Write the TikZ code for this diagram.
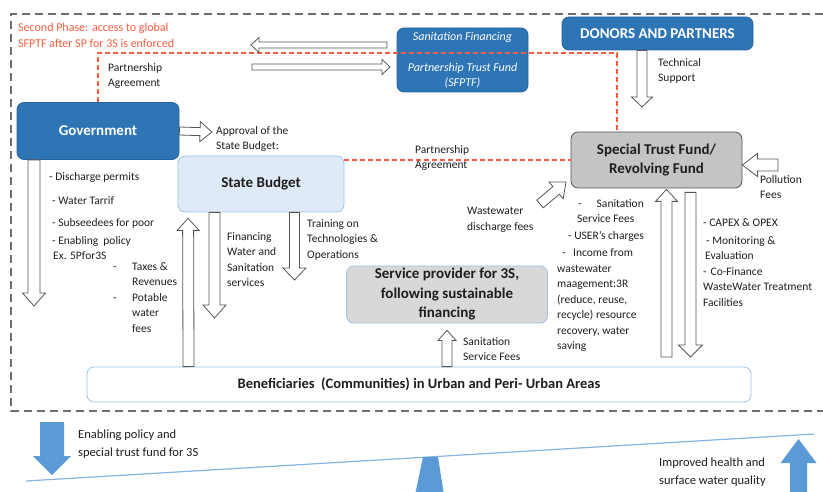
\documentclass[tikz,border=0pt]{standalone}
\usepackage{fontspec}
\setmainfont{Carlito}
\usetikzlibrary{calc}

\definecolor{darkblue}{RGB}{46,117,182}
\definecolor{lightblue}{RGB}{222,235,247}
\definecolor{edgeblue}{RGB}{157,195,230}
\definecolor{trustgray}{RGB}{196,196,196}
\definecolor{spgray}{RGB}{216,216,216}
\definecolor{redline}{RGB}{250,92,62}
\definecolor{framegray}{RGB}{110,110,110}
\definecolor{arrgray}{RGB}{85,85,85}
\definecolor{fillblue}{RGB}{91,155,213}
\definecolor{txt}{RGB}{30,30,30}

\tikzset{
  box/.style={rounded corners=7pt, inner sep=0pt, align=center, line width=0.8pt},
  blubox/.style={box, draw=darkblue!85!black, fill=darkblue, text=white,
    font=\bfseries\fontsize{15}{19}\selectfont},
  palebox/.style={box, draw=edgeblue, fill=lightblue, text=txt,
    font=\bfseries\fontsize{15}{19}\selectfont},
  trustbox/.style={box, draw=arrgray, fill=trustgray, text=txt,
    font=\bfseries\fontsize{15}{19}\selectfont},
  spbox/.style={box, draw=edgeblue, fill=spgray, text=txt,
    font=\bfseries\fontsize{15}{19.5}\selectfont},
  benbox/.style={box, draw=edgeblue, fill=white, text=txt,
    font=\bfseries\fontsize{14.5}{18}\selectfont},
  lbl/.style={anchor=north west, inner sep=0pt, align=left, text=txt,
    font=\fontsize{11.5}{15.5}\selectfont},
  redlbl/.style={lbl, text=redline, font=\fontsize{12}{15.5}\selectfont},
  botlbl/.style={lbl, font=\fontsize{12.5}{18}\selectfont},
  arr/.style={draw=arrgray, fill=white, line width=0.8pt},
  reddash/.style={draw=redline, line width=1.3pt, dash pattern=on 5pt off 3pt},
  frame/.style={draw=framegray, line width=1.6pt, dash pattern=on 8pt off 5pt},
  fat/.style n args={3}{to path={
    let \p1=(\tikztostart), \p2=(\tikztotarget), \p3=($(\p2)!#3!(\p1)$) in
    ($(\p1)!#1!90:(\p2)$) -- ($(\p3)!#1!90:(\p2)$) -- ($(\p3)!#2!90:(\p2)$)
    -- (\p2) -- ($(\p3)!#2!-90:(\p2)$) -- ($(\p3)!#1!-90:(\p2)$)
    -- ($(\p1)!#1!-90:(\p2)$) -- cycle}},
}

\begin{document}
\begin{tikzpicture}[x=1pt, y=-1pt]
  \useasboundingbox (0,0) rectangle (823,492);

  % Frame
  \draw[frame] (823,14) -- (11,14) -- (11,411) -- (823,411);

  % Define nodes
  \node[blubox, minimum width=162, minimum height=57] (gov) at (98,131) {Government};
  \node[blubox, font=\itshape\fontsize{12}{15}\selectfont, minimum width=131, minimum height=64] (sfptf) at (462.5,60)
    {Sanitation Financing\\[16pt]Partnership Trust Fund\\(SFPTF)};
  \node[blubox, minimum width=191, minimum height=33] (donors) at (657.5,33.5) {DONORS AND PARTNERS};
  \node[trustbox, minimum width=171, minimum height=56] (trust) at (656.5,160) {Special Trust Fund/\\Revolving Fund};
  \node[palebox, minimum width=166, minimum height=56] (sb) at (261,184) {State Budget};
  \node[spbox, minimum width=201, minimum height=57] (sp) at (447,294.5)
    {Service provider for 3S,\\following sustainable\\financing};
  \node[benbox, minimum width=664, minimum height=35] (ben) at (419,384.5)
    {Beneficiaries\ \ (Communities) in Urban and Peri- Urban Areas};

  % Labels
  \node[redlbl] (phase) at (18,23) {Second Phase: access to global\\SFPTF after SP for 3S is enforced};
  \node[lbl] (partA) at (108,63) {Partnership\\Agreement};
  \node[lbl] (tech) at (658,58) {Technical\\Support};
  \node[lbl] (appr) at (216,126) {Approval of the\\State Budget:};
  \node[lbl] (partB) at (415,145) {Partnership\\Agreement};
  \node[lbl] (poll) at (760,175) {Pollution\\Fees};
  \node[lbl] (wwfees) at (467,207) {Wastewater\\discharge fees};
  \node[lbl] (govlist) at (49,172) {- Discharge permits\\[8.5pt]\hspace*{3pt}- Water Tarrif\\[6.5pt]\hspace*{3pt}- Subseedees for poor\\[2.5pt]\hspace*{3pt}- Enabling\ \ policy\\\hspace*{4pt}Ex. 5Pfor3S};
  \node[lbl] (taxes) at (113,262) {-\hspace*{15.5pt}Taxes \&\\\hspace*{19pt}Revenues\\-\hspace*{15.5pt}Potable\\\hspace*{19pt}water\\\hspace*{19pt}fees};
  \node[lbl] (fin) at (227,232) {Financing\\Water and\\Sanitation\\services};
  \node[lbl] (trn) at (307,219) {Training on\\Technologies \&\\Operations};
  \node[lbl] (sanfees) at (463,337) {Sanitation\\Service Fees};
  \node[lbl] (fees) at (557,199) {\hspace*{21pt}-\hspace*{15pt}Sanitation\\\hspace*{20pt}Service Fees\\[1.5pt]\hspace*{11pt}- USER’s charges\\[1.5pt]\hspace*{5pt}-\hspace*{7.5pt}Income from\\wastewater\\maagement:3R\\(reduce, reuse,\\recycle) resource\\recovery, water\\saving};
  \node[lbl] (capex) at (703,218) {- CAPEX \& OPEX\\[2.5pt]\hspace*{3pt}- Monitoring \&\\\hspace*{2pt}Evaluation\\-\hspace*{4pt}Co-Finance\\WasteWater Treatment\\Facilities};
  \node[botlbl] (enb) at (78,430) {Enabling policy and\\special trust fund for 3S};
  \node[botlbl] (impr) at (659,458) {Improved health and\\surface water quality};

  % Free ends
  \coordinate (pa) at (617,53);
  \coordinate (backtail) at (387,45);
  \coordinate (backtip) at (251,45);
  \coordinate (fwdtail) at (252,67);
  \coordinate (fwdtip) at (390,67);
  \coordinate (techtip) at (642,107);
  \coordinate (apprtip) at (212,132);
  \coordinate (polltail) at (778,165);
  \coordinate (wwtail) at (540,204);
  \coordinate (wwtip) at (566,182);
  \coordinate (govtip) at (34,306);
  \coordinate (fintip) at (214.5,318);
  \coordinate (trntip) at (294.5,280);
  \coordinate (uptail) at (666.5,357);
  \coordinate (dntip) at (690.5,357);

  % Draw edges
  \draw[reddash] (gov.north) |- (pa) -- (pa |- trust.north);
  \draw[reddash] (sb.east |- trust.west) -- (trust.west);

  \draw[arr] (backtail) to[fat={3pt}{7.5pt}{8pt}] (backtip);
  \draw[arr] (fwdtail) to[fat={3pt}{7.5pt}{8pt}] (fwdtip);
  \draw[arr] ([xshift=-15.5pt]donors.south) to[fat={5pt}{10.5pt}{10pt}] (techtip);
  \draw[arr] (gov.east) to[fat={4pt}{10pt}{12pt}] (apprtip);
  \draw[arr] (polltail) to[fat={6pt}{11.5pt}{15pt}] ([yshift=-5pt]trust.east);
  \draw[arr] (wwtail) to[fat={5pt}{11pt}{13pt}] (wwtip);
  \draw[arr] ([xshift=-64pt]gov.south) to[fat={6pt}{11.5pt}{13pt}] (govtip);
  \draw[arr] ([xshift=-230.5pt]ben.north) to[fat={5.5pt}{11pt}{12pt}] ([xshift=10.5pt, yshift=-6pt]sb.south west);
  \draw[arr] ([xshift=-46.5pt]sb.south) to[fat={5.5pt}{11.5pt}{13pt}] (fintip);
  \draw[arr] ([xshift=33.5pt]sb.south) to[fat={5pt}{11.5pt}{12pt}] (trntip);
  \draw[arr] (sp.south |- ben.north) to[fat={5pt}{9pt}{10pt}] ([yshift=-7pt]sp.south);
  \draw[arr] (uptail) to[fat={5.5pt}{11pt}{12pt}] ([xshift=10pt, yshift=-1pt]trust.south);
  \draw[arr] ([xshift=34pt, yshift=-4pt]trust.south) to[fat={5.5pt}{12pt}{12pt}] (dntip);

  % Balance
  \draw[fillblue!75, line width=1.2pt] (26,481) -- (814,434);
  \fill[fillblue] (423,457) -- (438,457) -- (444,495) -- (415,495) -- cycle;
  \coordinate (enbtop) at (52,422);
  \coordinate (enbtip) at (52,475);
  \coordinate (imptail) at (798.5,500);
  \coordinate (imptip) at (798.5,439);
  \fill[fillblue] (enbtop) to[fat={12pt}{19pt}{19pt}] (enbtip);
  \fill[fillblue] (imptail) to[fat={8.5pt}{18pt}{24pt}] (imptip);
\end{tikzpicture}
\end{document}
